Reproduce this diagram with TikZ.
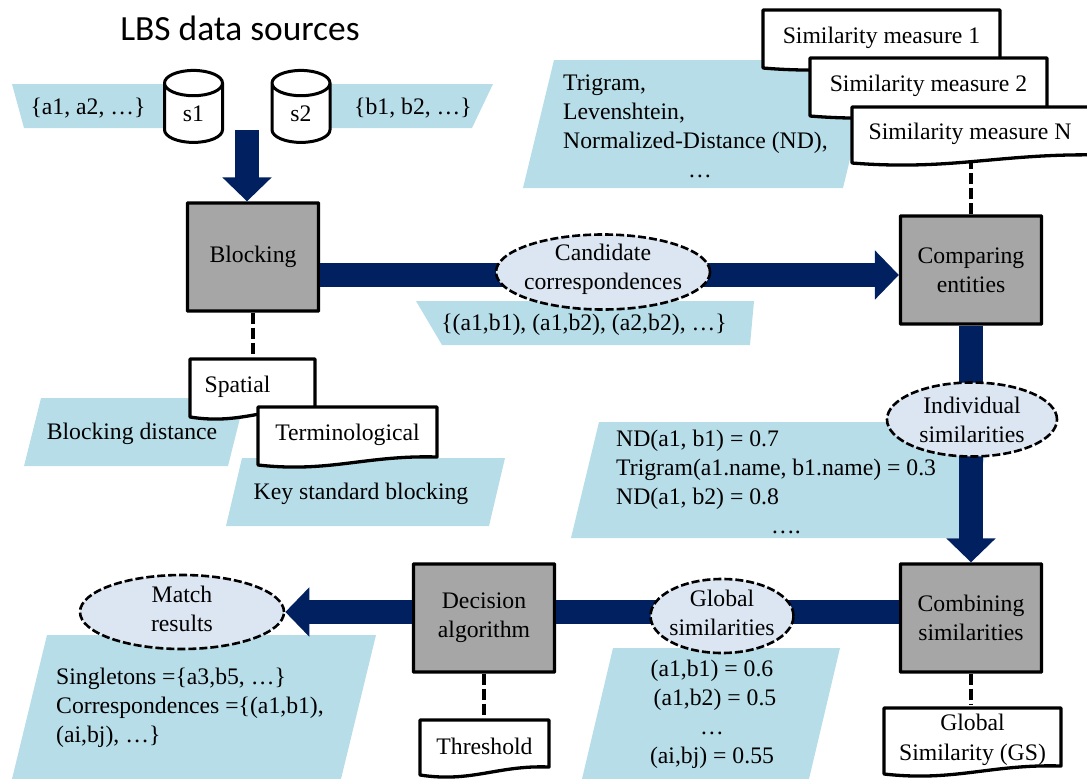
\documentclass[tikz,border=0pt]{standalone}
\usepackage{fontspec}
\setmainfont{Liberation Serif}
\newfontfamily\titlefont{Carlito}
\usetikzlibrary{arrows.meta,shapes.geometric,calc}
\definecolor{navybar}{HTML}{002060}
\definecolor{paleblue}{HTML}{B7DDE8}
\definecolor{paleoval}{HTML}{DCE6F2}
\definecolor{boxgray}{HTML}{A6A6A6}
\tikzset{
	lbl/.style={font=\fontsize{23.7}{29}\selectfont,align=center,inner sep=0pt},
	lblleft/.style={lbl,align=left,anchor=west},
	sheet/.style={fill=paleblue},
	stage/.style={lbl,draw,fill=boxgray,line width=3.3pt,rounded corners=0.5pt,minimum width=#1,minimum height=108pt},
	result/.style={lbl,ellipse,draw,fill=paleoval,line width=2.6pt,dash pattern=on 8pt off 3pt,inner sep=-20pt},
	flow/.style={navybar,line width=24pt,-{Triangle[length=24pt,width=48pt]}},
	bar/.style={navybar,line width=24pt},
	link/.style={line width=3.6pt,dash pattern=on 11pt off 4pt},
	doc/.style={draw,fill=white,line width=3.3pt,line join=round},
	store/.style={lbl,cylinder,shape border rotate=90,shape aspect=1.2,draw,fill=white,line width=3pt,minimum width=58pt,minimum height=72pt}
}
\newcommand{\docsheet}[6]{
	\filldraw[doc] (#2,#3) -- (#4,#3) -- (#4,#5) .. controls ({#4-(#4-#2)*0.4},{#5-2}) and ({#4-(#4-#2)*0.6},{#5+16}) .. (#2,{#5+8}) -- cycle;
	\node[lbl,minimum width={#4-#2},minimum height={#5-#3+6}] (#1) at ({(#2+#4)/2},{(#3+#5)/2+3}) {#6};
}
\begin{document}
\begin{tikzpicture}[x=1pt,y=-1pt]
	\useasboundingbox (0,0) rectangle (1087,779);
	\node[inner sep=0pt,font=\titlefont\fontsize{35.4}{40}\selectfont] (title) at (240,28) {LBS data sources};

	\fill[sheet] (12,84) -- (190,84) -- (190,128) -- (24,128) -- cycle;
	\fill[sheet] (300,84) -- (493,84) -- (472,128) -- (300,128) -- cycle;
	\fill[sheet] (554,60) -- (874,60) -- (843,188) -- (523,188) -- cycle;
	\fill[sheet] (416,301) -- (754,301) -- (750,345) -- (442,345) -- cycle;
	\fill[sheet] (41,398) -- (245,398) -- (228,466) -- (24,466) -- cycle;
	\fill[sheet] (242,458) -- (505,458) -- (489,526) -- (226,526) -- cycle;
	\fill[sheet] (599,422) -- (993,422) -- (965,538) -- (571,538) -- cycle;
	\fill[sheet] (613,648) -- (840,648) -- (809,779) -- (582,779) -- cycle;
	\fill[sheet] (47,635) -- (376,635) -- (341,779) -- (12,779) -- cycle;

	\node[stage=131pt] (blocking) at (253,257) {\raisebox{-3pt}{Blocking}};
	\node[stage=141pt] (comparing) at (971,270) {Comparing\\entities};
	\node[stage=141pt] (combining) at (971,618) {Combining\\similarities};
	\node[stage=141pt] (decision) at (484,618) {Decision\\algorithm};
	\coordinate (feed) at (247,130);

	\draw[flow] (feed) -- (feed |- blocking.north);
	\draw[flow] (blocking.east |- 0,275) -- (comparing.west |- 0,275);
	\draw[flow] (comparing.south) -- (combining.north);
	\draw[bar] (combining.west |- 0,612) -- (decision.east |- 0,612);

	\docsheet{simone}{763}{10}{1000}{60}{Similarity measure 1}
	\docsheet{simtwo}{810}{58}{1047}{108}{Similarity measure 2}
	\draw[link] (comparing.north) -- ++(0,-60) coordinate (simnfoot);
	\docsheet{simn}{852}{107}{1100}{155}{Similarity measure N\hspace{12pt}}
	\draw[link] (blocking.south) -- ++(0,48) coordinate (spatialtop);
	\docsheet{spatial}{190}{359}{315}{409}{Spatial\hspace{30pt}}
	\docsheet{termin}{258}{407}{437}{457}{Terminological}
	\draw[link] (decision.south) -- ++(0,48) coordinate (thresholdtop);
	\docsheet{threshold}{420}{720}{549}{767}{Threshold}
	\draw[link] (combining.south) -- ++(0,31) coordinate (globaltop);
	\docsheet{gs}{884}{708}{1061}{766}{\raisebox{1pt}{Global}\\Similarity (GS)}

	\node[result,minimum width=214pt,minimum height=75pt] (candidate) at (603,272) {Candidate\\correspondences\vspace{5pt}};
	\node[result,minimum width=170pt,minimum height=74pt] (individual) at (972,419.5) {Individual\\similarities};
	\node[result,minimum width=143pt,minimum height=74pt] (global) at (722,616) {Global\\similarities\vspace{6pt}};
	\node[result,minimum width=204pt,minimum height=74pt] (match) at (182,612) {Match\\results\vspace{6pt}};
	\draw[flow] (decision.west |- 0,612) -- (match.east);

	\node[store] (sone) at (193.5,113.5) {\raisebox{-9pt}{s1}};
	\node[store] (stwo) at (301,113.5) {\raisebox{-9pt}{s2}};

	\node[lbl] (setone) at (88,108) {\{a1, a2, \dots\}};
	\node[lbl] (settwo) at (413,108) {\{b1, b2, \dots\}};
	\node[lblleft] (measures) at (563,126) {Trigram,\\Levenshtein,\\Normalized-Distance (ND),\\\hspace*{125pt}\dots};
	\node[lbl] (pairs) at (584,325) {\{(a1,b1), (a1,b2), (a2,b2), \dots\}};
	\node[lbl] (distance) at (132,434) {Blocking distance};
	\node[lbl] (keyblock) at (361,494) {Key standard blocking};
	\node[lblleft] (scores) at (616,482) {ND(a1, b1) = 0.7\\Trigram(a1.name, b1.name) = 0.3\\ND(a1, b2) = 0.8\\\hspace*{155pt}\dots.};
	\node[lbl] (globals) at (712,714) {(a1,b1) = 0.6\\\hspace*{6pt}(a1,b2) = 0.5\\\dots\\(ai,bj) = 0.55};
	\node[lblleft] (outcome) at (56,708) {Singletons =\{a3,b5, \dots\}\\Correspondences =\{(a1,b1),\\(ai,bj), \dots\}};
\end{tikzpicture}
\end{document}
